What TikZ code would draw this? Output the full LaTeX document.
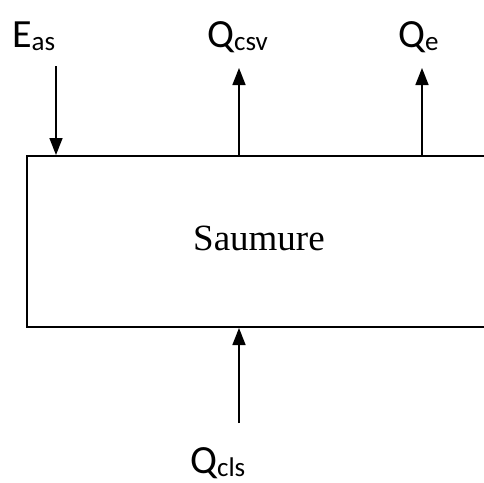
\documentclass[tikz,border=0pt]{standalone}
\usepackage{fontspec}
\setmainfont{Liberation Serif}
\newfontfamily\labelfont{Carlito}
\usetikzlibrary{arrows.meta}
\newcommand\flowsub[1]{\raisebox{-3pt}{\fontsize{27}{30}\selectfont #1}}

\begin{document}
\begin{tikzpicture}[
      x=1pt,
      y=-1pt,
      >={Triangle[length=17pt,width=13pt]},
      wall/.style={line width=2pt},
      flow/.style={->,line width=1.6pt},
      lbl/.style={inner sep=0pt,anchor=base west,font=\labelfont\fontsize{40}{48}\selectfont}
    ]
      \useasboundingbox (0,0) rectangle (484,482);
      \coordinate (boxNE) at (484,156);
      \coordinate (boxNW) at (27,156);
      \coordinate (boxSW) at (27,327);
      \coordinate (boxSE) at (484,327);
      \draw[wall] (boxNE) -- (boxNW) -- (boxSW) -- (boxSE);
      \node[inner sep=0pt,anchor=base west,font=\fontsize{37}{44}\selectfont] (saumure) at (193,250) {Saumure};
      \node[lbl] (eas) at (12,47) {E\flowsub{as}};
      \node[lbl] (qcsv) at (207,47) {Q\flowsub{csv}};
      \node[lbl] (qe) at (398,47) {Q\flowsub{e}};
      \node[lbl] (qcls) at (190,473) {Q\flowsub{cls}};
      \coordinate (easIn) at (56,66);
      \coordinate (easTop) at (56,155);
      \coordinate (csvTop) at (239,155);
      \coordinate (csvOut) at (239,68);
      \coordinate (eTop) at (422,155);
      \coordinate (eOut) at (422,68);
      \coordinate (clsIn) at (239,423);
      \coordinate (clsBot) at (239,328);
      \draw[flow] (easIn) -- (easTop);
      \draw[flow] (csvTop) -- (csvOut);
      \draw[flow] (eTop) -- (eOut);
      \draw[flow] (clsIn) -- (clsBot);
    \end{tikzpicture}
\end{document}
